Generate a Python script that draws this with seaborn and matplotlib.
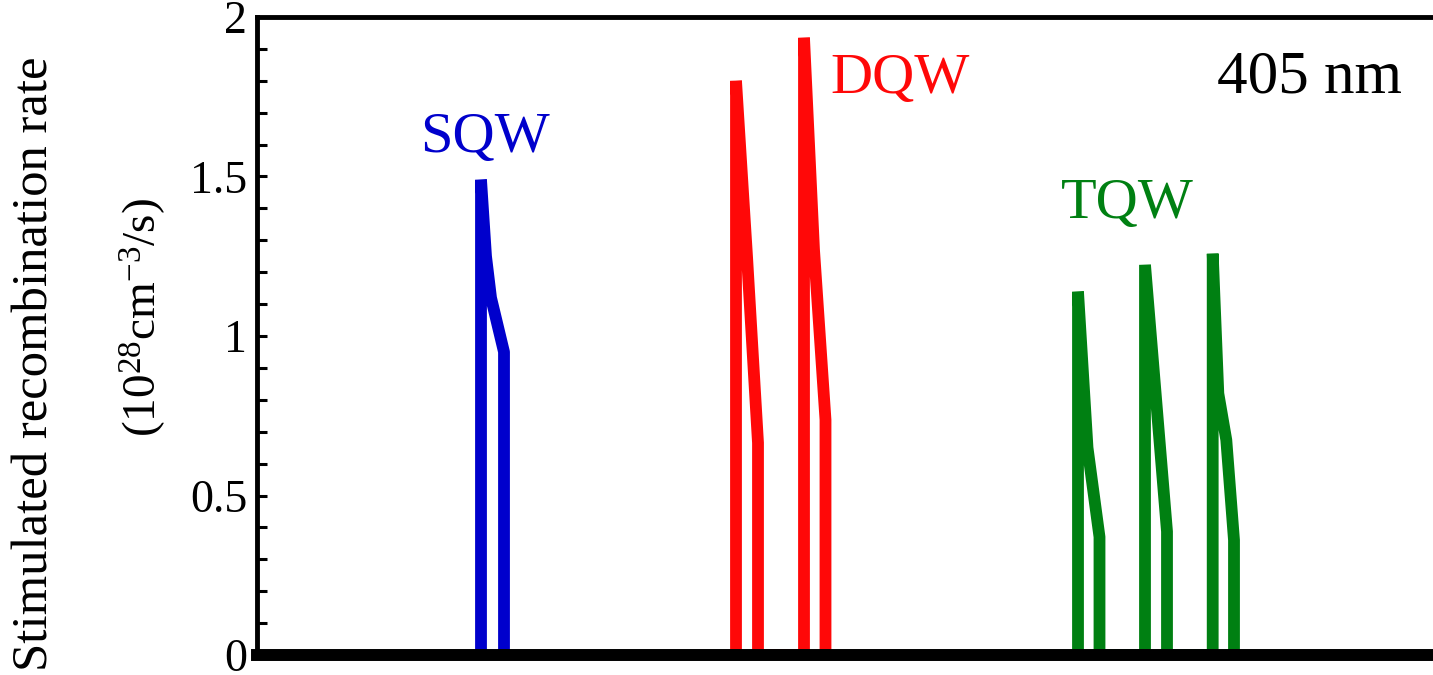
import numpy as np
import pandas as pd
import matplotlib
matplotlib.use("Agg")
import matplotlib.pyplot as plt
from matplotlib.ticker import MultipleLocator
import seaborn as sns

# position across the active region (nm) and stimulated recombination rate (1e28 cm^-3/s)
sqw_x = [22.4, 22.4, 22.9, 23.4, 24.7, 24.7]
sqw_y = [0, 1.49, 1.25, 1.12, 0.95, 0]

dqw_x = [47.9, 47.9, 49.0, 50.1, 50.1, 54.7, 54.7, 55.7, 56.85, 56.85]
dqw_y = [0, 1.80, 1.25, 0.665, 0, 0, 1.935, 1.27, 0.737, 0]

tqw_x = [82.1, 82.1, 83.05, 84.25, 84.25, 88.8, 88.8, 91.0, 91.0,
         95.57, 95.57, 96.13, 96.93, 97.7, 97.7]
tqw_y = [0, 1.139, 0.65, 0.37, 0, 0, 1.223, 0.387, 0,
         0, 1.258, 0.82, 0.674, 0.36, 0]

colors = {"SQW": "#0000cc", "DQW": "#ff0808", "TQW": "#008012"}

df = pd.concat([
    pd.DataFrame({"x": sqw_x, "rate": sqw_y, "structure": "SQW"}),
    pd.DataFrame({"x": dqw_x, "rate": dqw_y, "structure": "DQW"}),
    pd.DataFrame({"x": tqw_x, "rate": tqw_y, "structure": "TQW"}),
], ignore_index=True)

sns.set_style("white")
plt.rcParams["font.family"] = ["Liberation Serif", "DejaVu Serif"]
plt.rcParams["mathtext.fontset"] = "custom"
plt.rcParams["mathtext.rm"] = "Liberation Serif"
plt.rcParams["mathtext.it"] = "Liberation Serif:italic"
plt.rcParams["text.color"] = "black"
plt.rcParams["axes.edgecolor"] = "black"
plt.rcParams["ytick.color"] = "black"
plt.rcParams["ytick.labelcolor"] = "black"

fig = plt.figure(figsize=(14.33, 6.75), dpi=100)
ax = fig.add_axes([257 / 1433, 20 / 675, 1203 / 1433, 638 / 675])

sns.lineplot(data=df, x="x", y="rate", hue="structure", palette=colors,
             sort=False, estimator=None, legend=False, linewidth=8.5, ax=ax)
for line in ax.get_lines():
    line.set_solid_joinstyle("bevel")
    line.set_solid_capstyle("butt")

ax.set_xlim(0, 120.3)
ax.set_ylim(0, 2)
ax.set_xlabel("")
ax.set_ylabel("")
ax.set_xticks([])
ax.yaxis.set_minor_locator(MultipleLocator(0.1))
ax.set_yticks([0, 0.5, 1, 1.5, 2])
ax.set_yticklabels(["0", "0.5", "1", "1.5", "2"])
ax.tick_params(axis="y", which="both", direction="in", length=7, width=2.2,
               left=True, right=False, labelsize=33, pad=7, colors="black")

for side in ["left", "top", "bottom"]:
    ax.spines[side].set_color("black")
ax.spines["left"].set_linewidth(3.5)
ax.spines["top"].set_linewidth(3.5)
ax.spines["right"].set_visible(False)
ax.spines["bottom"].set_linewidth(8.6)
ax.spines["bottom"].set_zorder(5)

ax.text(22.8, 1.577, "SQW", color=colors["SQW"], fontsize=42, ha="center", va="baseline")
ax.text(64.3, 1.762, "DQW", color=colors["DQW"], fontsize=42, ha="center", va="baseline")
ax.text(87.0, 1.37, "TQW", color=colors["TQW"], fontsize=42, ha="center", va="baseline")
ax.text(105.3, 1.762, "405 nm", color="black", fontsize=44, ha="center", va="baseline")

fig.text(35 / 1433, 1 - 364 / 675, "Stimulated recombination rate", rotation=90,
         fontsize=36.5, ha="center", va="center")
fig.text(143 / 1433, 1 - 317 / 675, r"(10$^{28}$cm$^{-3}$/s)", rotation=90,
         fontsize=34, ha="center", va="center")

fig.savefig("out.png", dpi=100)
